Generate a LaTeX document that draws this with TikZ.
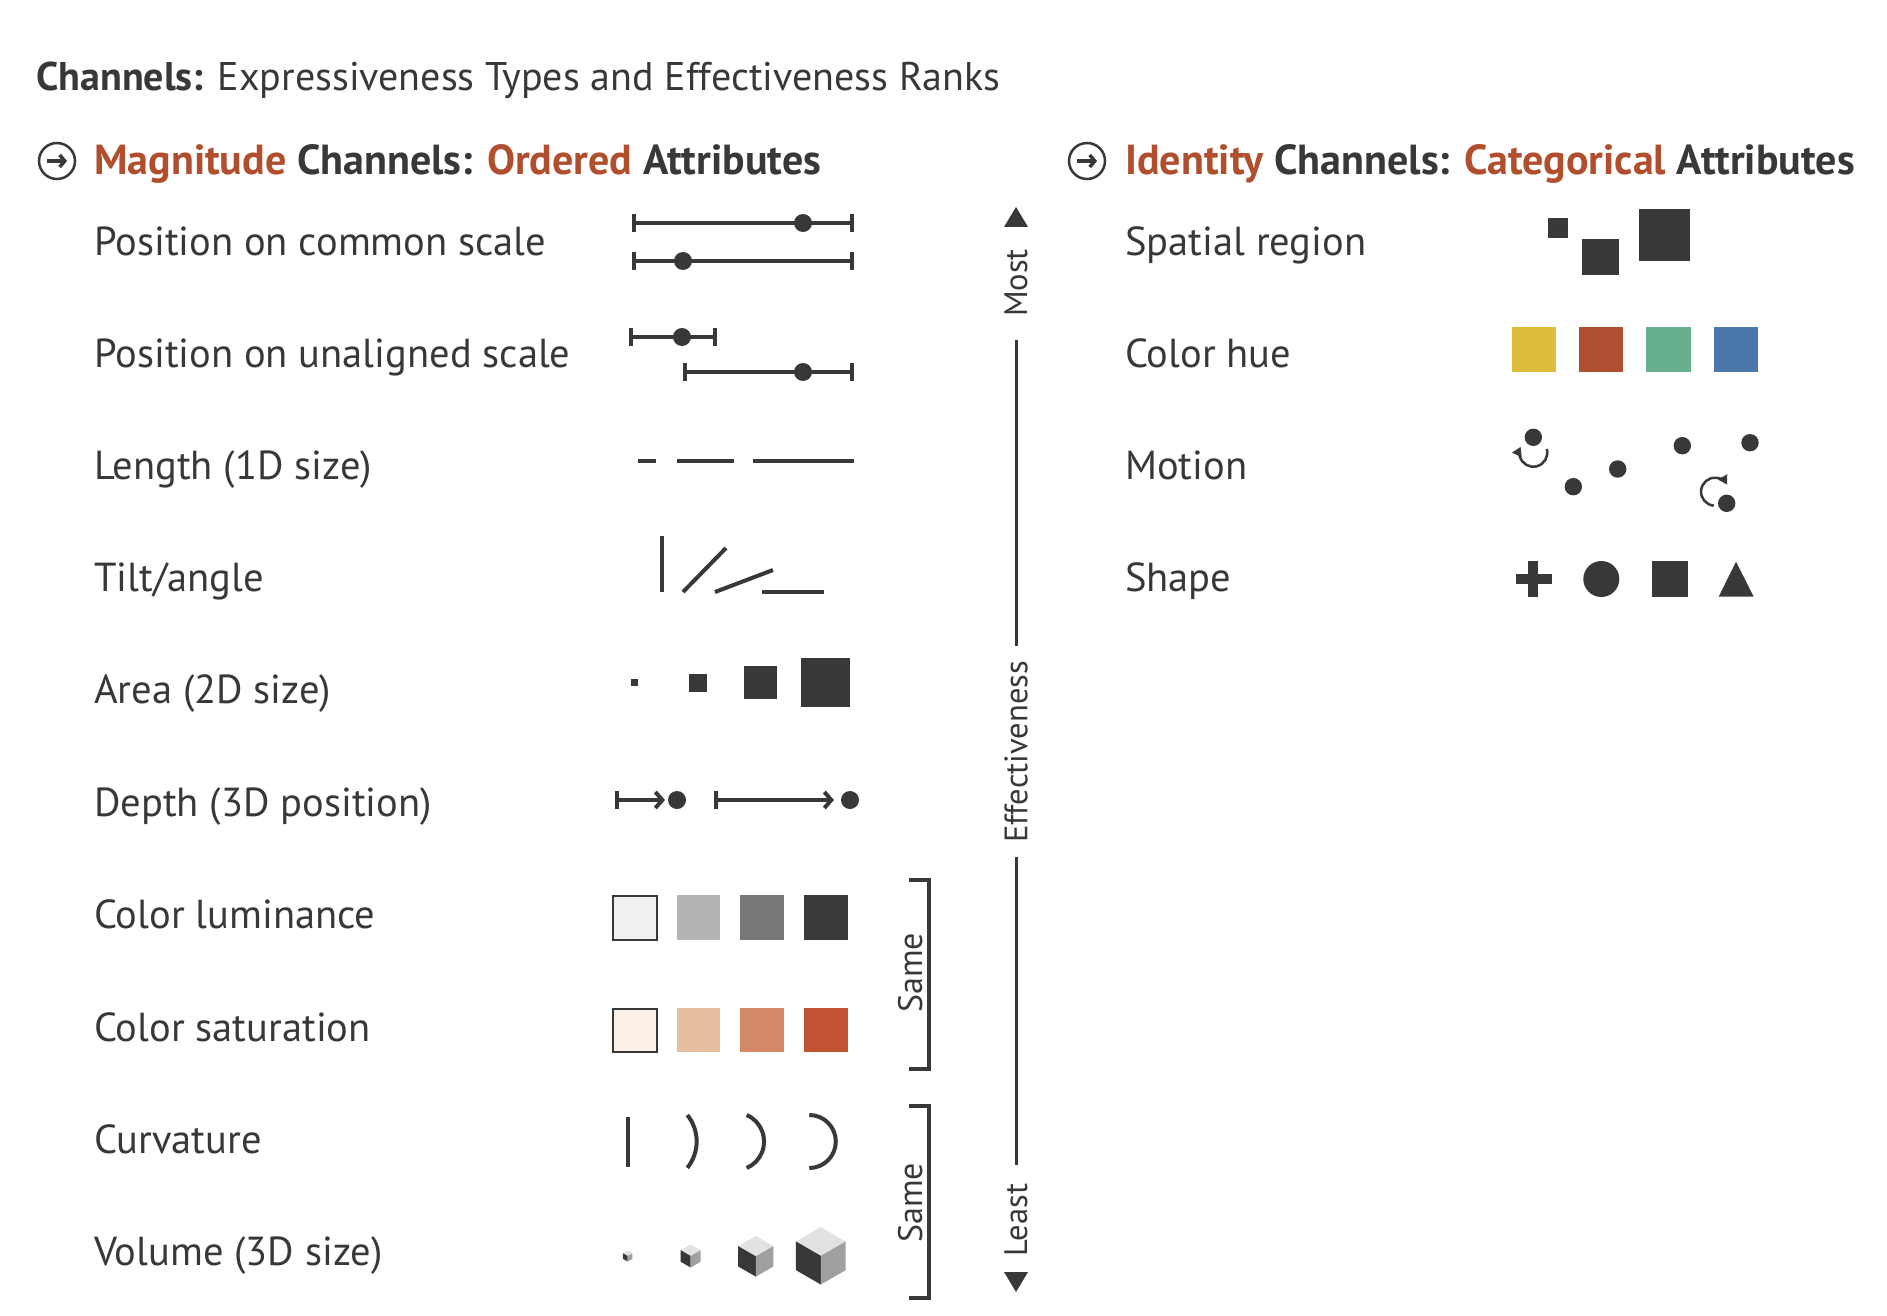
\documentclass[tikz,border=0pt]{standalone}
\usepackage{fontspec}
\setmainfont{PT Sans}
\usetikzlibrary{arrows.meta}
\definecolor{ink}{HTML}{383838}
\definecolor{accent}{HTML}{B04E2E}
\definecolor{lumA}{HTML}{F0F0EF}
\definecolor{lumB}{HTML}{B4B4B4}
\definecolor{lumC}{HTML}{777777}
\definecolor{lumD}{HTML}{3A3A3A}
\definecolor{satA}{HTML}{FBF1E9}
\definecolor{satB}{HTML}{E6BEA0}
\definecolor{satC}{HTML}{D48A68}
\definecolor{satD}{HTML}{C25335}
\definecolor{hueA}{HTML}{DEBD3D}
\definecolor{hueB}{HTML}{AE4F30}
\definecolor{hueC}{HTML}{68AF8E}
\definecolor{hueD}{HTML}{4B77AB}
\definecolor{cubeTop}{HTML}{E2E2E2}
\definecolor{cubeRight}{HTML}{A0A0A0}
\newcommand{\drawcube}[3]{%
  \fill[cubeTop] ({#1},{#2-#3}) -- ({#1+0.866*#3},{#2-0.5*#3}) -- ({#1},{#2}) -- ({#1-0.866*#3},{#2-0.5*#3}) -- cycle;
  \fill[ink] ({#1-0.866*#3},{#2-0.5*#3}) -- ({#1},{#2}) -- ({#1},{#2+#3}) -- ({#1-0.866*#3},{#2+0.5*#3}) -- cycle;
  \fill[cubeRight] ({#1},{#2}) -- ({#1+0.866*#3},{#2-0.5*#3}) -- ({#1+0.866*#3},{#2+0.5*#3}) -- ({#1},{#2+#3}) -- cycle;}
\begin{document}
\begin{tikzpicture}[x=1pt,y=-1pt,
  lbl/.style={anchor=base west, inner sep=0pt, text=ink, font=\fontsize{40.5}{44}\selectfont},
  hdr/.style={anchor=base west, inner sep=0pt, text=ink, font=\fontsize{42}{46}\selectfont\bfseries},
  axislbl/.style={rotate=90, inner sep=0pt, text=ink, font=\fontsize{32.5}{36}\selectfont},
  samelbl/.style={rotate=90, inner sep=0pt, text=ink, font=\fontsize{34}{38}\selectfont},
  glyph/.style={draw=ink, line width=4pt},
  errbar/.style={draw=ink, line width=4pt, {Bar[width=18pt]}-{Bar[width=18pt]}},
  deptharrow/.style={draw=ink, line width=4pt, {Bar[width=18pt]}-{Straight Barb[length=7pt,width=16pt]}},
  dot/.style={fill=ink},
  bracket/.style={draw=ink, line width=4pt},
  rotarrow/.style={draw=ink, line width=2.5pt, -{Triangle[length=9pt,width=10pt]}}
]
\useasboundingbox[fill=white] (0,0) rectangle (1887,1316);

% title
\node[anchor=base west, inner sep=0pt, text=ink, font=\fontsize{40}{44}\selectfont] (title) at (36,91)
  {\textbf{Channels:} Expressiveness Types and Effectiveness Ranks};

% header icons
\draw[ink, line width=2.5pt] (57,161) circle[radius=18];
\draw[ink, line width=3.5pt, -{Straight Barb[length=5pt,width=12pt]}] (47,161) -- (67,161);
\draw[ink, line width=2.5pt] (1087,161) circle[radius=18];
\draw[ink, line width=3.5pt, -{Straight Barb[length=5pt,width=12pt]}] (1077,161) -- (1097,161);

\node[hdr] (hleft) at (94,175) {\textcolor{accent}{Magnitude} Channels: \textcolor{accent}{Ordered} Attributes};
\node[hdr] (hright) at (1125,175) {\textcolor{accent}{Identity} Channels: \textcolor{accent}{Categorical} Attributes};

% left labels
\node[lbl] (r1) at (94,255) {Position on common scale};
\node[lbl] (r2) at (94,367) {Position on unaligned scale};
\node[lbl] (r3) at (94,479) {Length (1D size)};
\node[lbl] (r4) at (94,591) {Tilt/angle};
\node[lbl] (r5) at (94,703) {Area (2D size)};
\node[lbl] (r6) at (94,816) {Depth (3D position)};
\node[lbl] (r7) at (94,928) {Color luminance};
\node[lbl] (r8) at (94,1041) {Color saturation};
\node[lbl] (r9) at (94,1153) {Curvature};
\node[lbl] (r10) at (94,1265) {Volume (3D size)};

% right labels
\node[lbl] (s1) at (1125,255) {Spatial region};
\node[lbl] (s2) at (1125,367) {Color hue};
\node[lbl] (s3) at (1125,479) {Motion};
\node[lbl] (s4) at (1125,591) {Shape};

% row 1: common scale
\draw[errbar] (632,223) -- (854,223);
\fill[dot] (803,223) circle[radius=9];
\draw[errbar] (632,261) -- (854,261);
\fill[dot] (683,261) circle[radius=9];
% row 2: unaligned
\draw[errbar] (629,337) -- (717,337);
\fill[dot] (682,337) circle[radius=9];
\draw[errbar] (683,372) -- (854,372);
\fill[dot] (803,372) circle[radius=9];
% row 3: length
\draw[glyph] (638,461) -- (656,461);
\draw[glyph] (677,461) -- (734,461);
\draw[glyph] (753,461) -- (854,461);
% row 4: tilt
\draw[glyph] (662,536) -- (662,592);
\draw[glyph] (683,592) -- (726,548);
\draw[glyph] (715,592) -- (773,570);
\draw[glyph] (762,592) -- (824,592);
% row 5: area
\fill[ink] (631,679) rectangle (638,686);
\fill[ink] (689,674) rectangle (707,692);
\fill[ink] (744,666) rectangle (777,699);
\fill[ink] (801,658) rectangle (850,707);
% row 6: depth
\draw[deptharrow] (615,800) -- (665,800);
\fill[dot] (677,800) circle[radius=9];
\draw[deptharrow] (714,800) -- (834,800);
\fill[dot] (850,800) circle[radius=9];
% row 7: luminance
\filldraw[fill=lumA, draw=ink, line width=2pt] (613,896) rectangle (657,940);
\fill[lumB] (677,895) rectangle (720,940);
\fill[lumC] (740,895) rectangle (784,940);
\fill[lumD] (804,895) rectangle (848,940);
% row 8: saturation
\filldraw[fill=satA, draw=ink, line width=2pt] (613,1008.5) rectangle (657,1052);
\fill[satB] (677,1008) rectangle (720,1052);
\fill[satC] (740,1008) rectangle (784,1052);
\fill[satD] (804,1008) rectangle (848,1052);
% row 9: curvature
\draw[glyph] (628,1117) -- (628,1167);
\draw[glyph] (687.3,1115) arc[start angle=-39, end angle=39, radius=42];
\draw[glyph] (746.7,1115) arc[start angle=-66.5, end angle=66.5, radius=28.9];
\draw[glyph] (809.3,1115) arc[start angle=-90, end angle=90, radius=26.5];
% row 10: volume
\drawcube{627.7}{1256}{5.5}
\drawcube{690.7}{1256}{11.5}
\drawcube{755.8}{1256.3}{20.3}
\drawcube{820.8}{1255.8}{28.7}

% Same brackets
\draw[bracket] (909,880) -- (929,880) -- (929,1069) -- (909,1069);
\node[samelbl] (same1) at (911,973) {Same};
\draw[bracket] (909,1106) -- (929,1106) -- (929,1298) -- (909,1298);
\node[samelbl] (same2) at (911,1203) {Same};

% effectiveness axis
\fill[ink] (1016,207) -- (1028,227) -- (1004,227) -- cycle;
\node[axislbl] (most) at (1016,283) {Most};
\draw[ink, line width=3pt] (1016,340) -- (1016,646);
\node[axislbl] (eff) at (1016,752) {Effectiveness};
\draw[ink, line width=3pt] (1016,857) -- (1016,1165);
\node[axislbl] (least) at (1016,1220) {Least};
\fill[ink] (1016,1292) -- (1028,1272) -- (1004,1272) -- cycle;

% spatial region
\fill[ink] (1547.5,218) rectangle (1567.5,238);
\fill[ink] (1582,238.5) rectangle (1618.5,275);
\fill[ink] (1639,209.5) rectangle (1690,261);
% color hue
\fill[hueA] (1512,327) rectangle (1556,372);
\fill[hueB] (1579,327) rectangle (1623,372);
\fill[hueC] (1646,327) rectangle (1691,372);
\fill[hueD] (1714,327) rectangle (1758,372);
% motion
\draw[rotarrow] (1533.3,452.7) ++(-15:14) arc[start angle=-15, end angle=205, radius=14];
\fill[dot] (1533.3,437.3) circle[radius=8.7];
\fill[dot] (1573.3,486.7) circle[radius=8.7];
\fill[dot] (1617.7,469) circle[radius=8.7];
\fill[dot] (1682.3,445.7) circle[radius=8.7];
\fill[dot] (1750,442.7) circle[radius=8.7];
\draw[rotarrow] (1715,491.7) ++(95:14) arc[start angle=95, end angle=330, radius=14];
\fill[dot] (1726.7,503.3) circle[radius=8.7];
% shape
\fill[ink] (1516,574) rectangle (1551.7,584);
\fill[ink] (1528.3,561.3) rectangle (1538.3,596.7);
\fill[ink] (1601.3,579) circle[radius=18];
\fill[ink] (1652,561.3) rectangle (1687.7,596.7);
\fill[ink] (1736,561.7) -- (1753.7,596.7) -- (1718.7,596.7) -- cycle;
\end{tikzpicture}
\end{document}
